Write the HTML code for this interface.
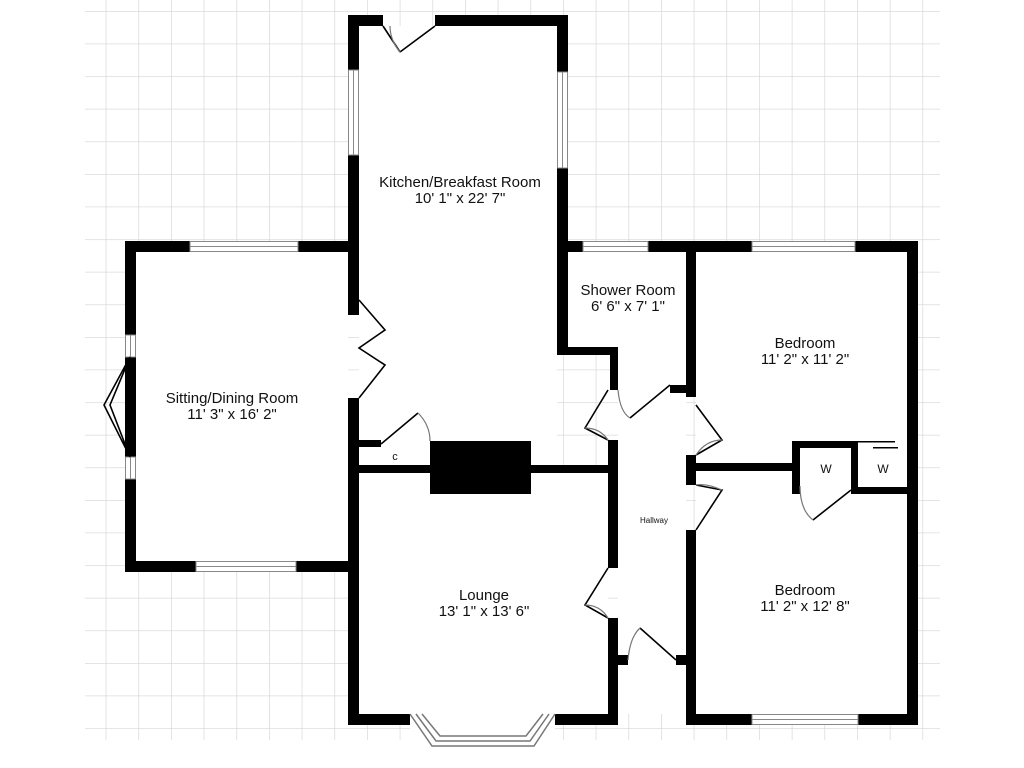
<!DOCTYPE html>
<html><head><style>
html,body{margin:0;padding:0;background:#fff;width:1024px;height:768px;overflow:hidden}
svg text{font-family:"Liberation Sans",Arial,sans-serif;fill:#111}
</style></head><body>
<svg width="1024" height="768" viewBox="0 0 1024 768" xmlns="http://www.w3.org/2000/svg">
<defs>
<pattern id="g" x="105.7" y="11" width="32.67" height="32.6" patternUnits="userSpaceOnUse">
<path d="M0 0V32.6M0 0H32.67" stroke="#d4d4da" stroke-width="1.3" fill="none"/>
</pattern>
</defs>
<rect x="85" y="0" width="855" height="740" fill="url(#g)"/>
<g fill="#fff">
<rect x="359" y="26" width="198" height="440"/>
<rect x="136" y="252" width="212" height="309"/>
<rect x="359" y="472" width="249" height="242"/>
<rect x="568" y="252" width="118" height="100"/>
<rect x="618" y="352" width="68" height="362"/>
<rect x="696" y="252" width="211" height="462"/>
<rect x="410" y="714" width="145" height="30"/>
</g>
<g fill="#000">
<rect x="348" y="15" width="35" height="11"/>
<rect x="435" y="15" width="133" height="11"/>
<rect x="348" y="15" width="11" height="300"/>
<rect x="557" y="15" width="11" height="240"/>
<rect x="125" y="241" width="234" height="11"/>
<rect x="125" y="241" width="11" height="331"/>
<rect x="125" y="561" width="234" height="11"/>
<rect x="348" y="398" width="11" height="327"/>
<rect x="359" y="440" width="22" height="7"/>
<rect x="348" y="465" width="270" height="8"/>
<rect x="430" y="441" width="101" height="53"/>
<rect x="348" y="714" width="62" height="11"/>
<rect x="555" y="714" width="63" height="11"/>
<rect x="608" y="440" width="10" height="128"/>
<rect x="608" y="618" width="10" height="107"/>
<rect x="608" y="655" width="20" height="10"/>
<rect x="676" y="655" width="20" height="10"/>
<rect x="557" y="241" width="139" height="11"/>
<rect x="557" y="241" width="11" height="114"/>
<rect x="557" y="347" width="61" height="8"/>
<rect x="610" y="347" width="8" height="43"/>
<rect x="686" y="241" width="10" height="156"/>
<rect x="670" y="385" width="26" height="8"/>
<rect x="686" y="455" width="10" height="30"/>
<rect x="686" y="530" width="10" height="195"/>
<rect x="686" y="463" width="112" height="8"/>
<rect x="686" y="241" width="232" height="11"/>
<rect x="907" y="241" width="11" height="484"/>
<rect x="686" y="714" width="232" height="11"/>
<rect x="792" y="441" width="66" height="7"/>
<rect x="792" y="441" width="8" height="53"/>
<rect x="851" y="441" width="7" height="53"/>
<rect x="851" y="487" width="60" height="7"/>
<rect x="855" y="441" width="40" height="1.5"/>
<rect x="873" y="447" width="25" height="1.5"/>
</g>
<g fill="#fff" stroke="#888" stroke-width="1">
<rect x="348.5" y="70" width="10" height="85"/>
<rect x="557.5" y="72" width="10" height="96"/>
<rect x="190" y="241.5" width="108" height="10"/>
<rect x="196" y="561.5" width="100" height="10"/>
<rect x="125.5" y="335" width="10" height="22"/>
<rect x="125.5" y="457" width="10" height="22"/>
<rect x="583" y="241.5" width="65" height="10"/>
<rect x="752" y="241.5" width="103" height="10"/>
<rect x="752" y="714.5" width="106" height="10"/>
</g>
<g stroke="#888" stroke-width="1" fill="none">
<path d="M353.5 70V155M562.5 72V168M190 246.5H298M196 566.5H296M130.5 335V357M130.5 457V479M583 246.5H648M752 246.5H855M752 719.5H858"/>
<path d="M410 714 L432 746 H534 L555 714 M416 714 L436 741 H530 L549 714 M422 714 L440 736 H526 L543 714" stroke="#777" stroke-width="1.5"/>
</g>
<g stroke="#000" stroke-width="1.6" fill="none">
<path d="M383 26 L400 52 M435 26 L400 52"/>
<path d="M359 300 L385 330 L359 348 L385 365 L359 398"/>
<path d="M130 357 L104 405 L130 457 M130 357 L110 405 L130 457"/>
<path d="M381 444 L418 413"/>
<path d="M608 390 L585 428 L608 440"/>
<path d="M630 418 L670 385"/>
<path d="M696 405 L722 440 L696 455 M696 485 L722 490 L696 530"/>
<path d="M608 568 L585 605 L608 618"/>
<path d="M640 628 L676 660"/>
<path d="M813 520 L851 490"/>
</g>
<g stroke="#777" stroke-width="1.2" fill="none">
<path d="M418 413 Q430 425 430 441"/>
<path d="M618 390 Q620 412 630 418"/>
<path d="M585 428 Q600 428 608 440"/>
<path d="M722 440 Q706 440 696 455"/>
<path d="M722 490 Q706 483 696 485"/>
<path d="M585 605 Q600 605 608 618"/>
<path d="M628 660 Q630 637 640 628"/>
<path d="M800 486 Q800 510 813 520"/>
<path d="M400 52 Q390 40 390 26"/>
</g>
<g font-size="15" text-anchor="middle">
<text x="460" y="187">Kitchen/Breakfast Room</text>
<text x="460" y="203">10' 1" x 22' 7"</text>
<text x="232" y="403">Sitting/Dining Room</text>
<text x="232" y="419">11' 3" x 16' 2"</text>
<text x="628" y="295">Shower Room</text>
<text x="628" y="311">6' 6" x 7' 1"</text>
<text x="805" y="348">Bedroom</text>
<text x="805" y="364">11' 2" x 11' 2"</text>
<text x="484" y="600">Lounge</text>
<text x="484" y="616">13' 1" x 13' 6"</text>
<text x="805" y="595">Bedroom</text>
<text x="805" y="611">11' 2" x 12' 8"</text>
<text x="395" y="460" font-size="11">c</text>
<text x="826" y="473" font-size="12">W</text>
<text x="883" y="473" font-size="12">W</text>
<text x="654" y="523" font-size="8">Hallway</text>
</g>
</svg>
</body></html>
